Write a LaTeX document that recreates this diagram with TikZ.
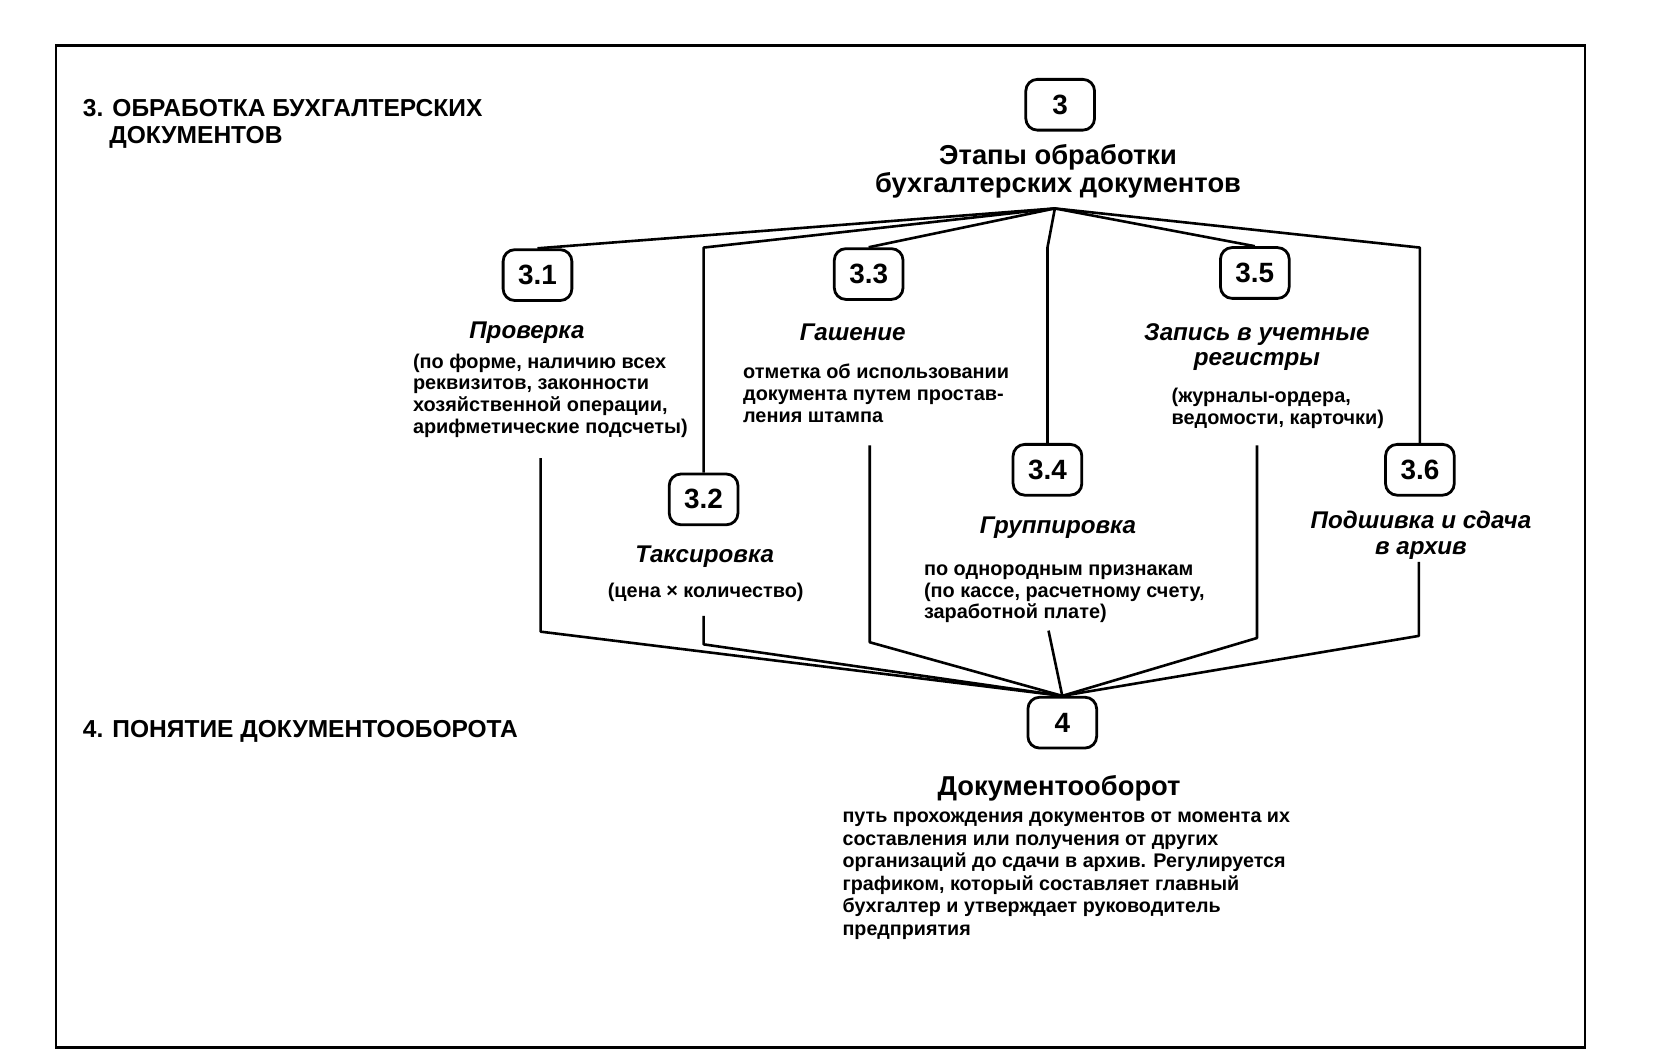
\documentclass[tikz,border=0pt]{standalone}
\usepackage{fontspec}
\setmainfont{Liberation Sans}
\usetikzlibrary{positioning}

\begin{document}
\begin{tikzpicture}[
    x=0.02cm, y=-0.02cm,
    stage/.style={rectangle, draw, rounded corners=2.2mm, line width=1.5pt, minimum width=1.3cm, minimum height=0.96cm, inner sep=0pt, font=\fontsize{15}{17}\selectfont\bfseries},
    heading/.style={anchor=base west, align=left, inner sep=0pt, font=\fontsize{13.2}{15}\selectfont\bfseries},
    stagename/.style={align=center, inner sep=0pt, font=\fontsize{13}{13.8}\selectfont\bfseries\itshape},
    note/.style={anchor=base west, align=left, inner sep=0pt, font=\fontsize{10.7}{11.8}\selectfont\bfseries},
    link/.style={line width=1.4pt, line join=round}
]
    \useasboundingbox (0,0) rectangle (1568,1005);
    \draw[line width=1.2pt] (53,43) rectangle (1498,990);

    % section headings (base = last line)
    \node[heading] (sec3) at (78,136) {3. ОБРАБОТКА БУХГАЛТЕРСКИХ\\\hspace*{0.5cm}ДОКУМЕНТОВ};
    \node[heading] (sec4) at (78,697) {4. ПОНЯТИЕ ДОКУМЕНТООБОРОТА};

    % stages
    \node[stage] (s3) at (1002,99) {3};
    \node[align=center, inner sep=0pt, font=\fontsize{14.7}{15.4}\selectfont\bfseries] (s3name) at (1000,162) {Этапы обработки\\бухгалтерских документов};
    \coordinate (top) at (997,197);
    \coordinate (upper) at (0,234);

    \node[stage] (s31) at (508,260) {3.1};
    \node[stage] (s32) at (665,472) {3.2};
    \node[stage] (s33) at (821,259) {3.3};
    \node[stage] (s34) at (990,444) {3.4};
    \node[stage] (s35) at (1186,258) {3.5};
    \node[stage] (s36) at (1342,444) {3.6};
    \node[stage] (s4) at (1004,683) {4};

    \node[stagename] (n31) at (498,314) {Проверка};
    \node[stagename] (n32) at (666,526) {Таксировка};
    \node[stagename] (n33) at (806,314) {Гашение};
    \node[stagename] (n34) at (1000,499) {Группировка};
    \node[stagename] (n35) at (1188,328) {Запись в учетные\\регистры};
    \node[stagename] (n36) at (1343,506) {Подшивка и сдача\\в архив};

    \node[note] (d31) at (390,410) {(по форме, наличию всех\\реквизитов, законности\\хозяйственной операции,\\арифметические подсчеты)};
    \node[note, anchor=base] (d32) at (667,565) {(цена × количество)};
    \node[note] (d33) at (702,399) {отметка об использовании\\документа путем простав-\\ления штампа};
    \node[note] (d34) at (873,585) {по однородным признакам\\(по кассе, расчетному счету,\\заработной плате)};
    \node[note] (d35) at (1107,401) {(журналы-ордера,\\ведомости, карточки)};

    \node[inner sep=0pt, font=\fontsize{14.7}{16}\selectfont\bfseries] (n4) at (1001,745) {Документооборот};
    \node[note, font=\fontsize{10.6}{12.1}\selectfont\bfseries] (d4) at (796,884) {путь прохождения документов от момента их\\составления или получения от других\\организаций до сдачи в архив. Регулируется\\графиком, который составляет главный\\бухгалтер и утверждает руководитель\\предприятия};

    % links from stage 3
    \draw[link] (top) -- (s31.north);
    \draw[link] (top) -- (s32.north |- upper) -- (s32.north);
    \draw[link] (top) -- (s33.north);
    \draw[link] (top) -- (s34.north |- upper) -- (s34.north);
    \draw[link] (top) -- (s35.north);
    \draw[link] (top) -- (s36.north |- upper) -- (s36.north);

    % links into stage 4
    \coordinate (b31) at (511,433);
    \coordinate (b32) at (665,582);
    \coordinate (b33) at (822,421);
    \coordinate (b34) at (991,596);
    \coordinate (b35) at (1188,421);
    \coordinate (b36) at (1341,531);
    \draw[link] (b31) -- (511,597) -- (s4.north);
    \draw[link] (b32) -- (665,609) -- (s4.north);
    \draw[link] (b33) -- (822,607) -- (s4.north);
    \draw[link] (b34) -- (s4.north);
    \draw[link] (b35) -- (1188,603) -- (s4.north);
    \draw[link] (b36) -- (1341,601) -- (s4.north);
\end{tikzpicture}
\end{document}
